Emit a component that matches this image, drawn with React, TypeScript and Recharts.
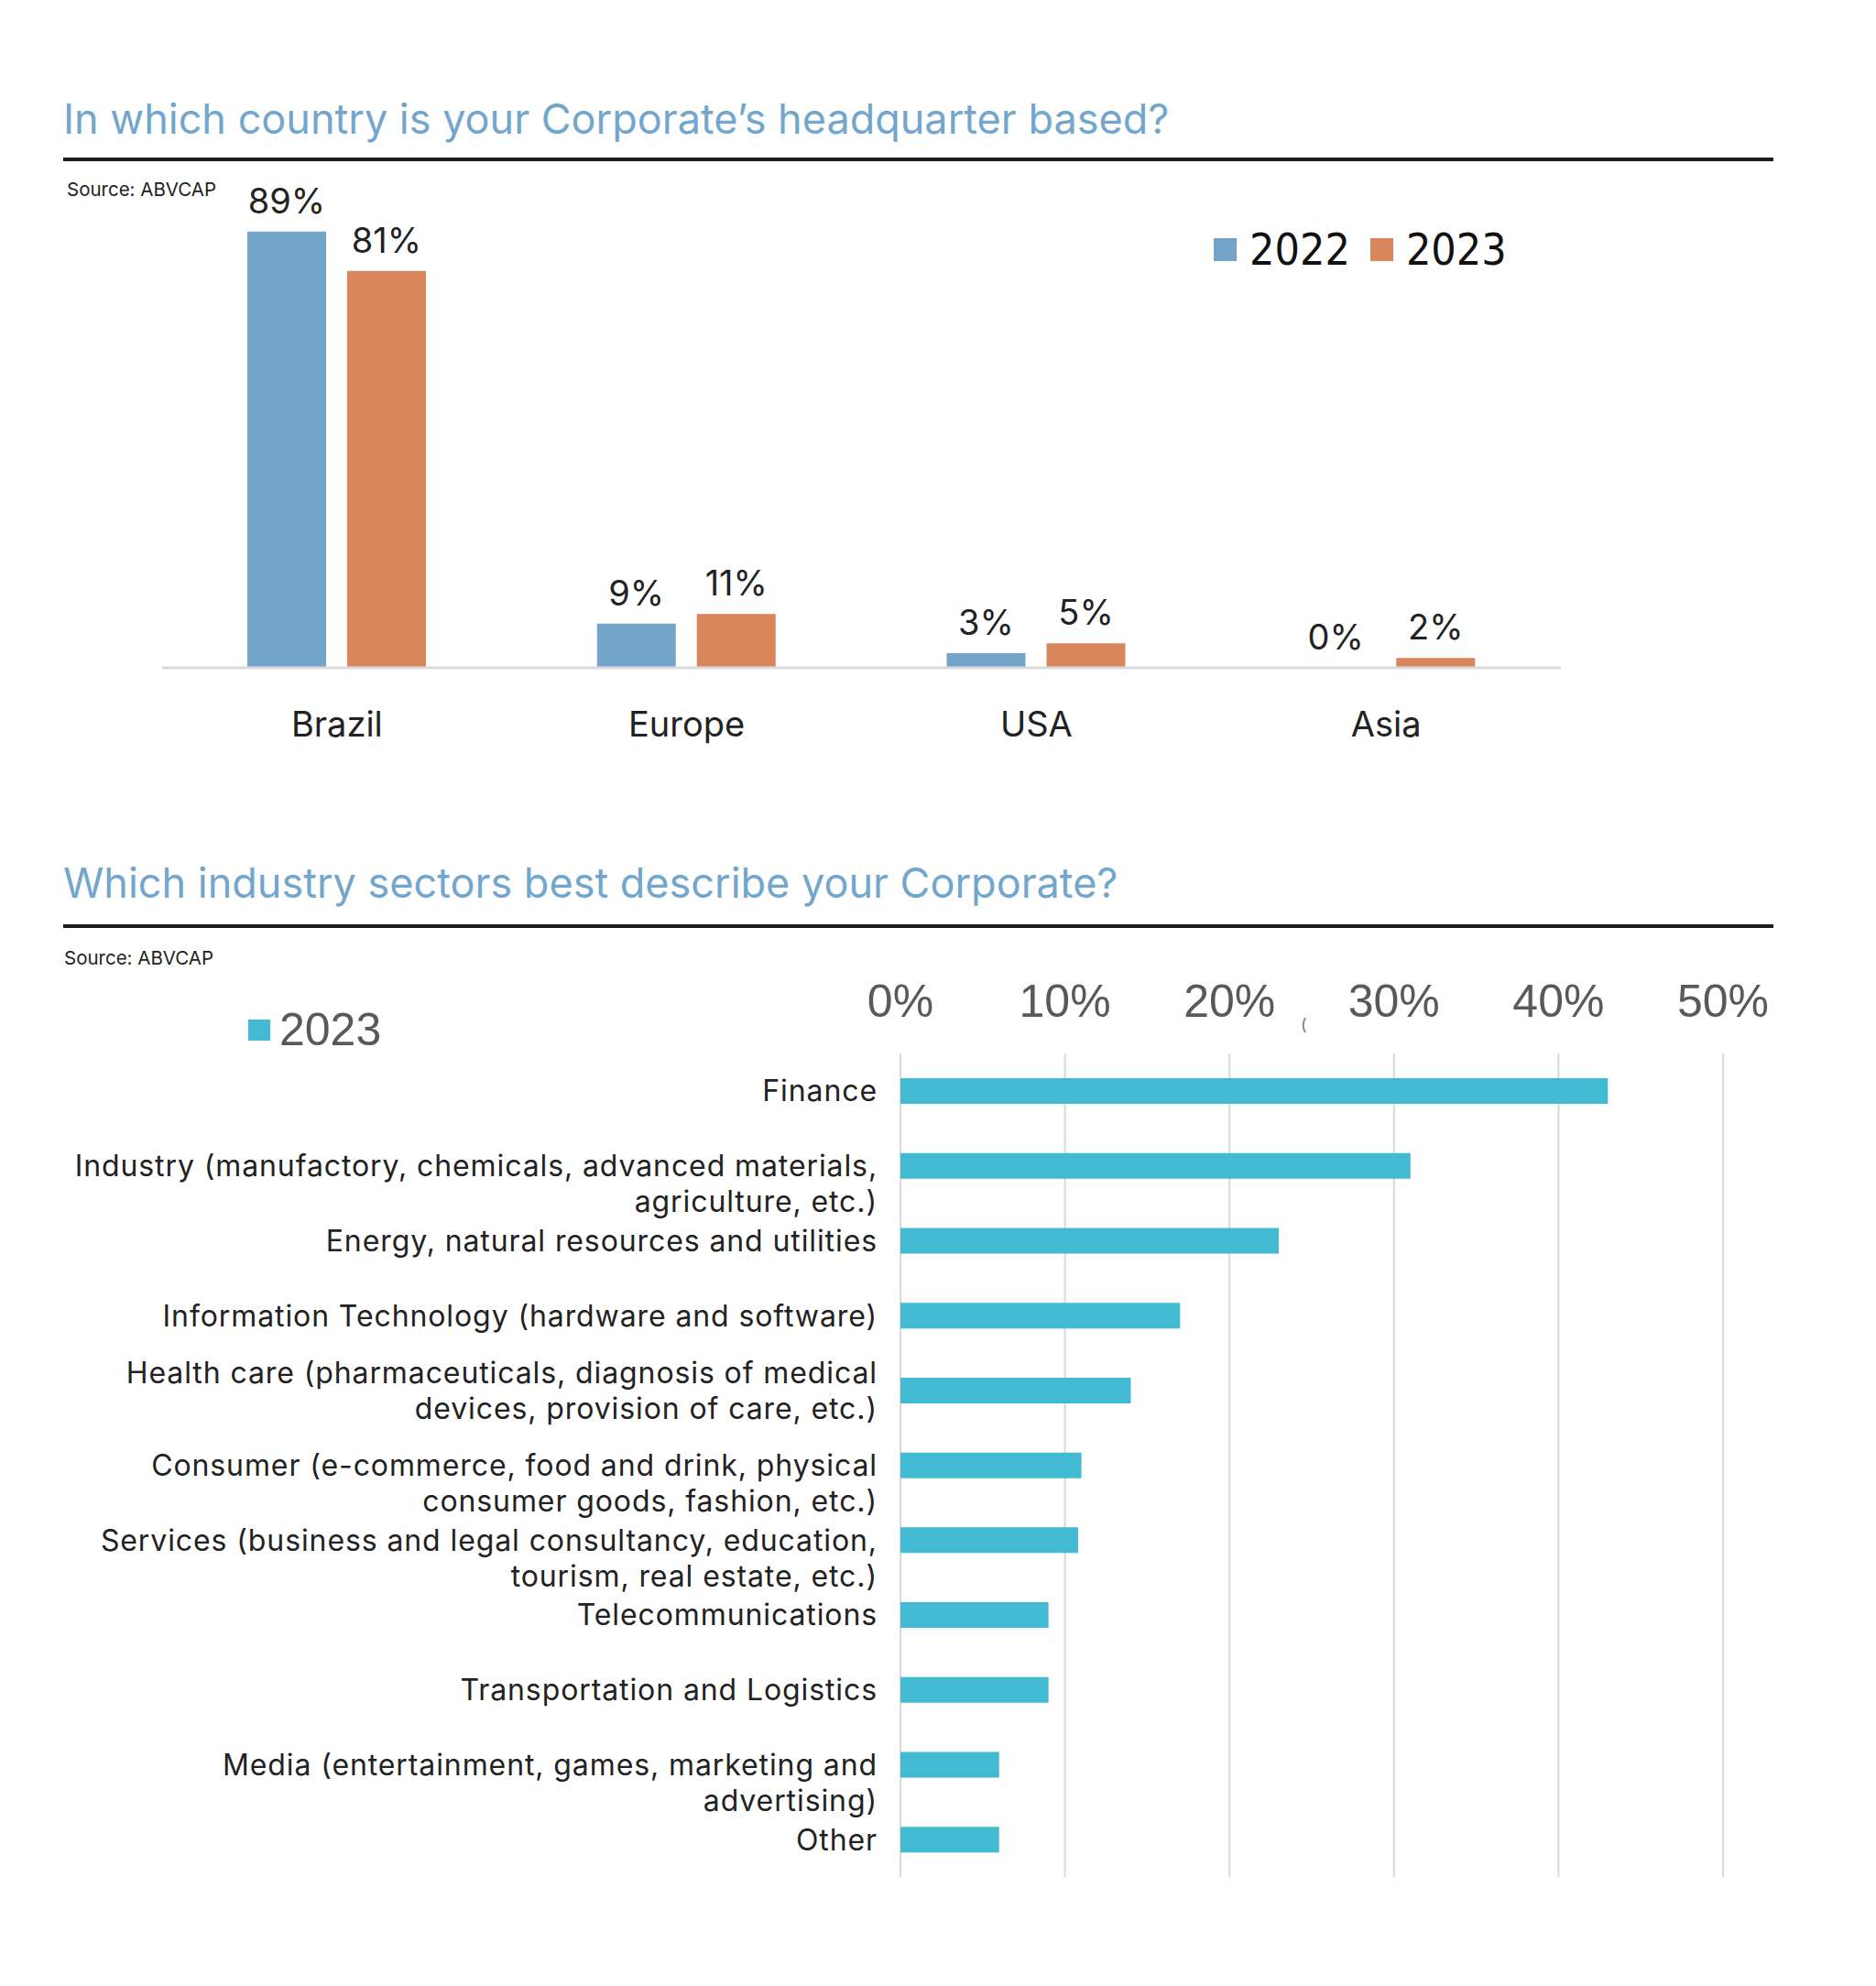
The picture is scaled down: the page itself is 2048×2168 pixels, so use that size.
import React from 'react';
import {
  BarChart,
  Bar,
  XAxis,
  YAxis,
  CartesianGrid,
  LabelList,
} from 'recharts';

// --- data ---
const COUNTRIES = ['Brazil', 'Europe', 'USA', 'Asia'];
const HQ_2022 = [89, 9, 3, 0];
const HQ_2023 = [81, 11, 5, 2];

const SECTORS = [
  'Finance',
  'Industry (manufactory, chemicals, advanced materials,\nagriculture, etc.)',
  'Energy, natural resources and utilities',
  'Information Technology (hardware and software)',
  'Health care (pharmaceuticals, diagnosis of medical\ndevices, provision of care, etc.)',
  'Consumer (e-commerce, food and drink, physical\nconsumer goods, fashion, etc.)',
  'Services (business and legal consultancy, education,\ntourism, real estate, etc.)',
  'Telecommunications',
  'Transportation and Logistics',
  'Media (entertainment, games, marketing and\nadvertising)',
  'Other',
];
const SECTORS_2023 = [43, 31, 23, 17, 14, 11, 10.8, 9, 9, 6, 6];
const PCT_TICKS = [0, 10, 20, 30, 40, 50];

const BLUE = '#74a5c9';
const ORANGE = '#d9865c';
const TEAL = '#42bbd2';
const TITLE = '#72a6cc';
const SANS = 'Inter, Roboto, sans-serif';
const NARROW = "'Liberation Sans Narrow', 'Liberation Sans', Arial, sans-serif";

// two-line labels sit with their first line on the bar, except health care which is centred
const TICK_NUDGE: Record<number, number> = { 4: -19 };
const LINE_GAP = 39;

const hqData = COUNTRIES.map((c, i) => ({ country: c, y2022: HQ_2022[i], y2023: HQ_2023[i] }));
const sectorData = SECTORS.map((s, i) => ({ sector: s, value: SECTORS_2023[i] }));

const pct = (v: any) => `${v}%`;

// bar value label, drawn above the bar top (also for zero-height bars)
const TopLabel = (props: any) => {
  const { x, y, width, value } = props;
  return (
    <text x={x + width / 2} y={y - 20} textAnchor="middle" fontSize={38} fill="#222" fontFamily={SANS}>
      {pct(value)}
    </text>
  );
};

const SectorTick = (props: any) => {
  const { x, y, payload, index } = props;
  const lines = String(payload.value).split('\n');
  const nudge = TICK_NUDGE[index] ?? 0;
  return (
    <g>
      {lines.map((l, i) => (
        <text
          key={i}
          x={x}
          y={y + nudge + i * LINE_GAP}
          dy="0.36em"
          textAnchor="end"
          fontSize={32}
          letterSpacing={0.9}
          fill="#222"
          fontFamily={SANS}
        >
          {l}
        </text>
      ))}
    </g>
  );
};

const abs = (left: number, top: number): React.CSSProperties => ({ position: 'absolute', left, top });

export default function App() {
  return (
    <div style={{ position: 'absolute', left: 0, top: 0, width: 2048, height: 2168, background: '#fff', overflow: 'hidden' }}>
      {/* headings */}
      <div style={{ ...abs(69, 107), fontFamily: SANS, fontSize: 45, lineHeight: 1, color: TITLE, whiteSpace: 'nowrap' }}>
        In which country is your Corporate’s headquarter based?
      </div>
      <div style={{ ...abs(69, 172), width: 1867, height: 4, background: '#1c1c1c' }} />
      <div style={{ ...abs(73, 197), fontFamily: SANS, fontSize: 20.5, lineHeight: 1, color: '#222' }}>Source: ABVCAP</div>

      <div style={{ ...abs(69, 941), fontFamily: SANS, fontSize: 45, lineHeight: 1, color: TITLE, whiteSpace: 'nowrap' }}>
        Which industry sectors best describe your Corporate?
      </div>
      <div style={{ ...abs(69, 1009), width: 1867, height: 4, background: '#1c1c1c' }} />
      <div style={{ ...abs(70, 1036), fontFamily: SANS, fontSize: 20.5, lineHeight: 1, color: '#222' }}>Source: ABVCAP</div>
      <div style={{ ...abs(1420, 1110), fontFamily: SANS, fontSize: 18, lineHeight: 1, color: '#777' }}>(</div>

      {/* legends */}
      <div style={{ ...abs(1325, 242), height: 60, display: 'flex', alignItems: 'center', fontFamily: "'DejaVu Sans', sans-serif", fontStretch: 'condensed', fontSize: 48, color: '#111' }}>
        <span style={{ width: 25, height: 25, background: BLUE, marginRight: 14 }} />
        <span style={{ marginRight: 22 }}>2022</span>
        <span style={{ width: 25, height: 25, background: ORANGE, marginRight: 14 }} />
        <span>2023</span>
      </div>
      <div style={{ ...abs(271, 1094), height: 60, display: 'flex', alignItems: 'center', fontFamily: NARROW, fontSize: 50, color: '#595959' }}>
        <span style={{ width: 24, height: 23, background: TEAL, marginRight: 10 }} />
        <span>2023</span>
      </div>

      {/* headquarters chart */}
      <div style={abs(0, 150)}>
        <BarChart width={1800} height={700} data={hqData} margin={{ top: 44, right: 96, left: 177, bottom: 0 }} barGap={23}>
          <XAxis
            dataKey="country"
            height={121}
            tickLine={false}
            axisLine={{ stroke: '#d9d9d9', strokeWidth: 3 }}
            tickMargin={42}
            tick={{ fontSize: 38, fill: '#222', fontFamily: SANS }}
          />
          <YAxis hide domain={[0, 100]} />
          <Bar dataKey="y2022" name="2022" fill={BLUE} barSize={86} minPointSize={0.01} isAnimationActive={false}>
            <LabelList dataKey="y2022" content={<TopLabel />} />
          </Bar>
          <Bar dataKey="y2023" name="2023" fill={ORANGE} barSize={86} isAnimationActive={false}>
            <LabelList dataKey="y2023" content={<TopLabel />} />
          </Bar>
        </BarChart>
      </div>

      {/* sector chart */}
      <div style={abs(0, 1060)}>
        <BarChart width={2048} height={989} data={sectorData} layout="vertical" margin={{ top: 0, right: 167, left: 0, bottom: 0 }}>
          <CartesianGrid horizontal={false} stroke="#d9d9d9" strokeWidth={2} />
          <XAxis
            type="number"
            orientation="top"
            height={90}
            domain={[0, 50]}
            ticks={PCT_TICKS}
            tickFormatter={pct}
            axisLine={false}
            tickLine={false}
            tickMargin={34}
            tick={{ fontSize: 50, fill: '#595959', fontFamily: NARROW }}
          />
          <YAxis
            type="category"
            dataKey="sector"
            width={983}
            axisLine={false}
            tickLine={false}
            tickMargin={19}
            interval={0}
            tick={<SectorTick />}
          />
          <Bar dataKey="value" name="2023" fill={TEAL} barSize={28} isAnimationActive={false} />
        </BarChart>
      </div>
    </div>
  );
}
